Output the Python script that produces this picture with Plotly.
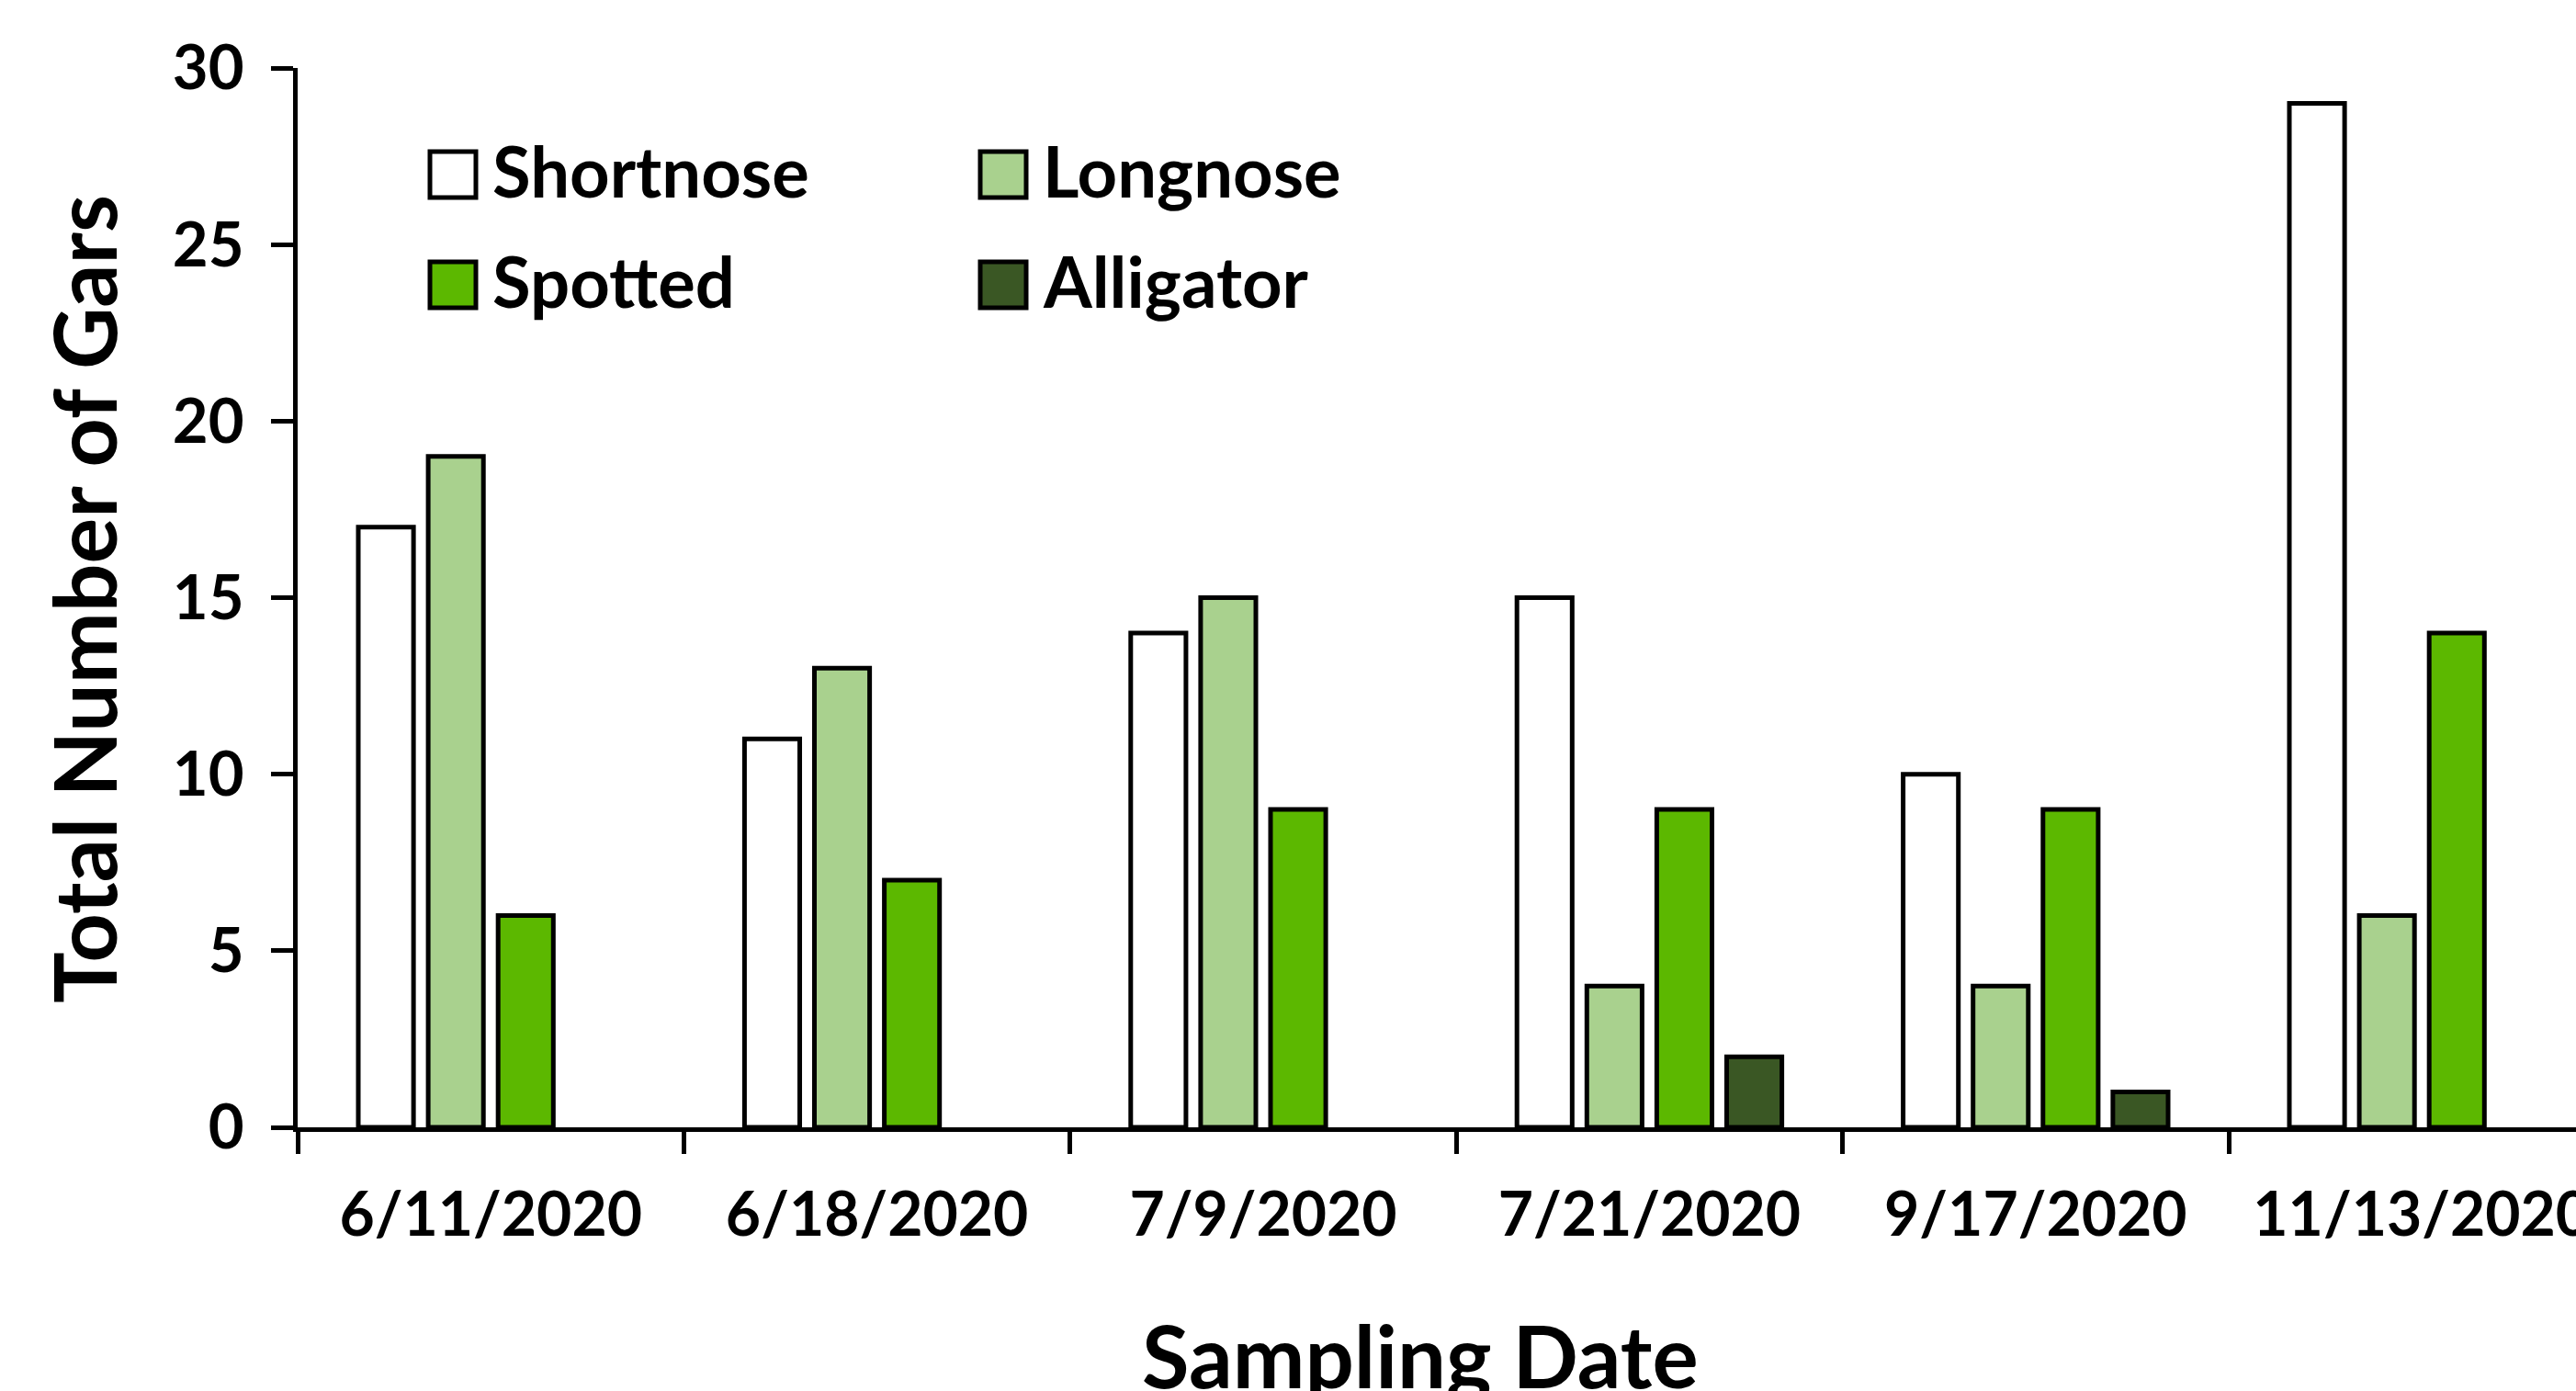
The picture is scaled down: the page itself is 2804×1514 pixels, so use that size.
import plotly.graph_objects as go

# ---- data ----
dates = ["6/11/2020", "6/18/2020", "7/9/2020", "7/21/2020", "9/17/2020", "11/13/2020"]
species = ["Shortnose", "Longnose", "Spotted", "Alligator"]
shortnose = [17, 11, 14, 15, 10, 29]
longnose = [19, 13, 15, 4, 4, 6]
spotted = [6, 7, 9, 9, 9, 14]
alligator = [0, 0, 0, 2, 1, 0]
y_ticks = [0, 5, 10, 15, 20, 25, 30]

series = [shortnose, longnose, spotted, alligator]
colors = ["#FFFFFF", "#A9D18E", "#5CB800", "#3A5724"]

W, H = 2804, 1514
L, R, T, B = 324, 2804, 74, 1227
FONT = "Lato"


def px_x(p):
    return (p - L) / (R - L)


def px_y(p):
    return (B - p) / (B - T)


fig = go.Figure()
for name, vals, col in zip(species, series, colors):
    fig.add_trace(go.Bar(
        x=dates, y=vals, name=name,
        marker=dict(color=col,
                    line=dict(color="black", width=[5 if v > 0 else 0 for v in vals])),
        showlegend=False,
    ))

# manual legend (large swatches like the original)
legend_cols = [468, 1067]
legend_rows = [190, 310]
box = 50
order = [(0, 0, 0), (1, 0, 1), (2, 1, 0), (3, 1, 1)]  # (series idx, row, col)
shapes = []
annotations = []
for idx, r, c in order:
    x0 = legend_cols[c]
    yc = legend_rows[r]
    shapes.append(dict(type="rect", xref="paper", yref="paper",
                       x0=px_x(x0), x1=px_x(x0 + box),
                       y0=px_y(yc + box / 2), y1=px_y(yc - box / 2),
                       fillcolor=colors[idx], line=dict(color="black", width=5)))
    annotations.append(dict(xref="paper", yref="paper", x=px_x(x0 + 66), y=px_y(yc - 5),
                            xanchor="left", yanchor="middle", showarrow=False,
                            text=species[idx],
                            font=dict(family=FONT, size=76, color="black", weight="bold")))

# axis titles
annotations.append(dict(xref="paper", yref="paper", x=px_x(1546), y=px_y(1474),
                        xanchor="center", yanchor="middle", showarrow=False,
                        text="Sampling Date",
                        font=dict(family=FONT, size=94, color="black", weight="bold")))
annotations.append(dict(xref="paper", yref="paper", x=px_x(91), y=px_y(652),
                        xanchor="center", yanchor="middle", showarrow=False,
                        textangle=-90, text="Total Number of Gars",
                        font=dict(family=FONT, size=93, color="black", weight="bold")))

fig.update_layout(
    width=W, height=H,
    margin=dict(l=L, r=W - R, t=T, b=H - B, autoexpand=False),
    paper_bgcolor="white", plot_bgcolor="white",
    barmode="group", bargap=0.276, bargroupgap=0.21,
    shapes=shapes, annotations=annotations,
    font=dict(family=FONT, color="black"),
)
fig.update_xaxes(
    type="category", range=[-0.5, (R - L) / 420.4 - 0.5],
    showline=True, linecolor="black", linewidth=5,
    ticks="outside", ticklen=24, tickwidth=5, tickcolor="black",
    tickson="boundaries", showgrid=False, zeroline=False,
    tickfont=dict(family=FONT, size=66, color="black", weight="bold"),
    ticklabelstandoff=34, automargin=False,
)
fig.update_yaxes(
    range=[0, 30], tickvals=y_ticks, ticktext=[str(v) for v in y_ticks],
    showline=True, linecolor="black", linewidth=5,
    ticks="outside", ticklen=24, tickwidth=5, tickcolor="black",
    showgrid=False, zeroline=False,
    tickfont=dict(family=FONT, size=67, color="black", weight="bold"),
    ticklabelstandoff=16, automargin=False,
)

fig.write_html("out.html",
               config={"displayModeBar": False},
               post_script="document.body.style.margin='0';document.body.style.overflow='hidden';")
